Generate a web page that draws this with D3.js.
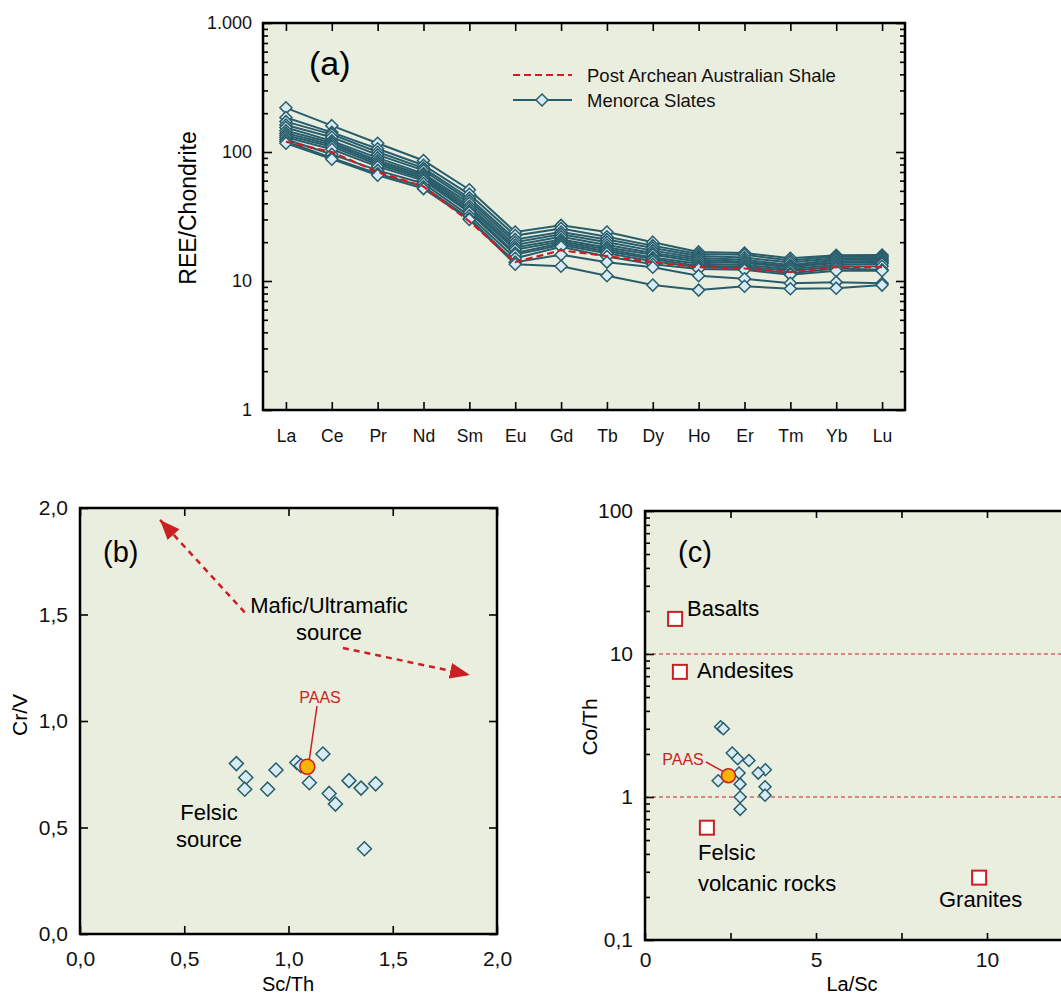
<!DOCTYPE html>
<html>
<head>
<meta charset="utf-8">
<script src="https://cdn.jsdelivr.net/npm/d3@7"></script>
<style>
body { margin: 0; background: #fff; }
svg { display: block; font-family: "Liberation Sans", Arial, sans-serif; }
</style>
</head>
<body>
<svg id="chart" width="1061" height="996"></svg>
<script>
// Panel (a) data: chondrite-normalised REE
var elements = ["La", "Ce", "Pr", "Nd", "Sm", "Eu", "Gd", "Tb", "Dy", "Ho", "Er", "Tm", "Yb", "Lu"];
var paasREE = [120, 100, 70, 54, 29, 14, 17.3, 15.6, 14, 12.8, 12.5, 11.7, 12.8, 12.8];
var slatesREE = [
    [220, 160, 117, 86, 51, 24, 27, 24, 20, 16.8, 16.5, 15, 15.8, 15.9],
    [185, 142, 106, 79, 47, 22.5, 25.5, 22, 18.8, 16.2, 16, 14.4, 15.5, 15.5],
    [172, 137, 100, 75, 44, 21, 24, 21, 18, 15.6, 15.2, 13.9, 15, 15.1],
    [162, 130, 95, 72, 42, 20, 23, 20, 17.2, 15.1, 14.6, 13.3, 14.6, 14.6],
    [155, 122, 90, 68, 40, 19, 22, 19, 16.5, 14.6, 14.1, 13, 14.1, 14.3],
    [146, 118, 86, 66, 38, 18.2, 21, 18.2, 16, 14.1, 13.8, 12.8, 13.8, 14],
    [140, 114, 83, 64, 36.5, 17.5, 20.2, 17.6, 15.2, 13.6, 13.3, 12.4, 13.3, 13.6],
    [135, 110, 80, 62, 35, 16.5, 19.6, 17, 14.8, 13.1, 12.9, 12, 12.9, 13],
    [130, 105, 77, 60, 34, 16, 19, 16.4, 14.2, 12.8, 12.6, 11.5, 12.5, 12.2],
    [125, 96, 72, 57, 32, 15, 18.4, 15.5, 13.5, 12.4, 12.2, 11.2, 12, 12],
    [121, 90, 68, 54, 30.5, 14, 16, 14, 12.8, 11, 10.4, 9.6, 9.8, 9.6],
    [117, 88, 66, 52, 30, 13.5, 13, 11, 9.3, 8.5, 9.1, 8.7, 8.8, 9.3]
];
var yTicksA = [1, 10, 100, 1000];
var yTickLabelsA = ["1", "10", "100", "1.000"];
var legendA = ["Post Archean Australian Shale", "Menorca Slates"];

// Panel (b) data: Cr/V vs Sc/Th
var scTh = [0.75, 0.795, 0.79, 0.90, 0.94, 1.04, 1.06, 1.10, 1.165, 1.195, 1.225, 1.29, 1.348, 1.418, 1.364];
var crV = [0.80, 0.735, 0.68, 0.68, 0.77, 0.805, 0.79, 0.71, 0.845, 0.66, 0.61, 0.72, 0.685, 0.705, 0.40];
var paasB = [1.09, 0.785];
var ticksB = [0, 0.5, 1, 1.5, 2];
var tickLabelsB = ["0,0", "0,5", "1,0", "1,5", "2,0"];

// Panel (c) data: Co/Th vs La/Sc
var laSc = [2.21, 2.29, 2.55, 2.71, 3.04, 3.52, 3.31, 2.75, 2.14, 2.78, 3.51, 3.51, 2.78, 2.78];
var coTh = [3.1, 3.0, 2.03, 1.85, 1.80, 1.55, 1.47, 1.47, 1.30, 1.23, 1.18, 1.03, 1.0, 0.82];
var paasC = [2.44, 1.41];
var rockNames = ["Basalts", "Andesites", "Felsic volcanic rocks", "Granites"];
var rockLaSc = [0.88, 1.02, 1.81, 9.77];
var rockCoTh = [17.6, 7.5, 0.61, 0.273];
var ticksCx = [0, 2.5, 5, 7.5, 10, 12.5];
var ticksCy = [0.1, 1, 10, 100];
var tickLabelsCy = ["0,1", "1", "10", "100"];

// colours
var bgColor = "#eaeedf", teal = "#285d6c", diamondFill = "#d7ebf4", red = "#cc1f24";

var svg = d3.select("#chart");

function diamond(r) {
    return "M0," + (-r) + "L" + r + ",0L0," + r + "L" + (-r) + ",0Z";
}
function logMinors(decades) {
    var out = [];
    decades.forEach(function (d) {
        for (var k = 2; k <= 9; k++) out.push(d * k);
    });
    return out;
}
function cleanAxis(g) {
    g.select(".domain").remove();
    g.selectAll(".tick line").attr("stroke", "#000").attr("stroke-width", 1.6);
    g.selectAll(".tick text").attr("fill", "#111");
}

//** Panel (a) */
var xA = d3.scalePoint().domain(elements).range([263, 905]).padding(0.5);
var yA = d3.scaleLog().domain([1, 1000]).range([410, 23]);
var gA = svg.append("g");

gA.append("rect").attr("x", 263).attr("y", 23).attr("width", 642).attr("height", 387).attr("fill", bgColor);

var lineA = d3.line().x(function (d, i) { return xA(elements[i]); }).y(function (d) { return yA(d); });

slatesREE.forEach(function (s) {
    gA.append("path").attr("d", lineA(s)).attr("fill", "none").attr("stroke", teal).attr("stroke-width", 2);
});
slatesREE.forEach(function (s) {
    gA.selectAll(null).data(s).enter().append("path")
        .attr("d", diamond(6))
        .attr("transform", function (d, i) { return "translate(" + xA(elements[i]) + "," + yA(d) + ")"; })
        .attr("fill", diamondFill).attr("stroke", teal).attr("stroke-width", 1.5);
});
gA.append("path").attr("d", lineA(paasREE)).attr("fill", "none")
    .attr("stroke", red).attr("stroke-width", 2.2).attr("stroke-dasharray", "7,4");

gA.append("g").attr("transform", "translate(0,410)")
    .call(d3.axisBottom(xA).tickSize(-8).tickPadding(20)).call(cleanAxis)
    .selectAll("text").attr("font-size", 17.5);
gA.append("g").attr("transform", "translate(0,23)")
    .call(d3.axisTop(xA).tickSize(-8).tickFormat("")).call(cleanAxis);
gA.append("g").attr("transform", "translate(263,0)")
    .call(d3.axisLeft(yA).tickValues(yTicksA).tickSize(-9).tickPadding(11)
        .tickFormat(function (d, i) { return yTickLabelsA[i]; })).call(cleanAxis)
    .selectAll("text").attr("font-size", 18);
gA.append("g").attr("transform", "translate(263,0)")
    .call(d3.axisLeft(yA).tickValues(logMinors([1, 10, 100])).tickSize(-5).tickFormat("")).call(cleanAxis);
gA.append("g").attr("transform", "translate(905,0)")
    .call(d3.axisRight(yA).tickValues(yTicksA).tickSize(-9).tickFormat("")).call(cleanAxis);
gA.append("g").attr("transform", "translate(905,0)")
    .call(d3.axisRight(yA).tickValues(logMinors([1, 10, 100])).tickSize(-5).tickFormat("")).call(cleanAxis);

gA.append("rect").attr("x", 263).attr("y", 23).attr("width", 642).attr("height", 387)
    .attr("fill", "none").attr("stroke", "#000").attr("stroke-width", 2.5);

gA.append("text").attr("x", 309).attr("y", 75).attr("font-size", 34).text("(a)");
gA.append("text").attr("transform", "translate(196,208) rotate(-90)")
    .attr("text-anchor", "middle").attr("font-size", 23).text("REE/Chondrite");

// legend
gA.append("line").attr("x1", 513).attr("x2", 572).attr("y1", 75).attr("y2", 75)
    .attr("stroke", red).attr("stroke-width", 2.2).attr("stroke-dasharray", "7,4");
gA.append("line").attr("x1", 513).attr("x2", 572).attr("y1", 100).attr("y2", 100)
    .attr("stroke", teal).attr("stroke-width", 2);
gA.append("path").attr("d", diamond(6)).attr("transform", "translate(542,100)")
    .attr("fill", diamondFill).attr("stroke", teal).attr("stroke-width", 1.5);
gA.selectAll(null).data(legendA).enter().append("text")
    .attr("x", 587).attr("y", function (d, i) { return 82 + i * 25; })
    .attr("font-size", 18.5).attr("fill", "#111").text(function (d) { return d; });

//** Panel (b) */
var xB = d3.scaleLinear().domain([0, 2]).range([80, 497]);
var yB = d3.scaleLinear().domain([0, 2]).range([934, 508]);
var gB = svg.append("g");

gB.append("rect").attr("x", 80).attr("y", 508).attr("width", 417).attr("height", 426).attr("fill", bgColor);

var defs = svg.append("defs");
defs.append("marker").attr("id", "arrowhead").attr("viewBox", "0 0 20 16")
    .attr("refX", 20).attr("refY", 8).attr("markerWidth", 20).attr("markerHeight", 16)
    .attr("markerUnits", "userSpaceOnUse").attr("orient", "auto")
    .append("path").attr("d", "M0,0L20,8L0,16Z").attr("fill", red);

gB.append("line").attr("x1", xB(0.79)).attr("y1", yB(1.51)).attr("x2", xB(0.384)).attr("y2", yB(1.944))
    .attr("stroke", red).attr("stroke-width", 2.5).attr("stroke-dasharray", "6,5").attr("marker-end", "url(#arrowhead)");
gB.append("line").attr("x1", xB(1.261)).attr("y1", yB(1.343)).attr("x2", xB(1.87)).attr("y2", yB(1.216))
    .attr("stroke", red).attr("stroke-width", 2.5).attr("stroke-dasharray", "6,5").attr("marker-end", "url(#arrowhead)");

gB.selectAll(null).data(scTh).enter().append("path")
    .attr("d", diamond(7))
    .attr("transform", function (d, i) { return "translate(" + xB(d) + "," + yB(crV[i]) + ")"; })
    .attr("fill", diamondFill).attr("stroke", teal).attr("stroke-width", 1.5);

gB.append("line").attr("x1", 317).attr("y1", 706).attr("x2", xB(paasB[0]) + 2).attr("y2", yB(paasB[1]) - 7)
    .attr("stroke", red).attr("stroke-width", 1.5);
gB.append("circle").attr("cx", xB(paasB[0])).attr("cy", yB(paasB[1])).attr("r", 7.5)
    .attr("fill", "#f7b500").attr("stroke", red).attr("stroke-width", 1.5);
gB.append("text").attr("x", 320).attr("y", 703).attr("text-anchor", "middle")
    .attr("font-size", 16).attr("fill", red).text("PAAS");

gB.append("g").attr("transform", "translate(0,934)")
    .call(d3.axisBottom(xB).tickValues(ticksB).tickSize(-8).tickPadding(17)
        .tickFormat(function (d, i) { return tickLabelsB[i]; })).call(cleanAxis)
    .selectAll("text").attr("font-size", 21);
gB.append("g").attr("transform", "translate(0,508)")
    .call(d3.axisTop(xB).tickValues(ticksB).tickSize(-8).tickFormat("")).call(cleanAxis);
gB.append("g").attr("transform", "translate(80,0)")
    .call(d3.axisLeft(yB).tickValues(ticksB).tickSize(-8).tickPadding(12)
        .tickFormat(function (d, i) { return tickLabelsB[i]; })).call(cleanAxis)
    .selectAll("text").attr("font-size", 21);
gB.append("g").attr("transform", "translate(497,0)")
    .call(d3.axisRight(yB).tickValues(ticksB).tickSize(-8).tickFormat("")).call(cleanAxis);

gB.append("rect").attr("x", 80).attr("y", 508).attr("width", 417).attr("height", 426)
    .attr("fill", "none").attr("stroke", "#000").attr("stroke-width", 2.5);

gB.append("text").attr("x", 103).attr("y", 562).attr("font-size", 29).text("(b)");
gB.append("text").attr("x", 329).attr("y", 613).attr("text-anchor", "middle").attr("font-size", 22).text("Mafic/Ultramafic");
gB.append("text").attr("x", 329).attr("y", 640).attr("text-anchor", "middle").attr("font-size", 22).text("source");
gB.append("text").attr("x", 209).attr("y", 820).attr("text-anchor", "middle").attr("font-size", 22).text("Felsic");
gB.append("text").attr("x", 209).attr("y", 847).attr("text-anchor", "middle").attr("font-size", 22).text("source");
gB.append("text").attr("x", 288).attr("y", 991).attr("text-anchor", "middle").attr("font-size", 20).text("Sc/Th");
gB.append("text").attr("transform", "translate(27,715) rotate(-90)")
    .attr("text-anchor", "middle").attr("font-size", 21).text("Cr/V");

//** Panel (c) */
var xC = d3.scaleLinear().domain([0, 15]).range([645, 1158]);
var yC = d3.scaleLog().domain([0.1, 100]).range([940, 511]);
var gC = svg.append("g");

gC.append("rect").attr("x", 645).attr("y", 511).attr("width", 513).attr("height", 429).attr("fill", bgColor);

[10, 1].forEach(function (v) {
    gC.append("line").attr("x1", 645).attr("x2", 1158).attr("y1", yC(v)).attr("y2", yC(v))
        .attr("stroke", red).attr("stroke-width", 1.2).attr("stroke-dasharray", "4,3");
});

gC.selectAll(".rock").data(rockLaSc).enter().append("rect").attr("class", "rock")
    .attr("x", function (d) { return xC(d) - 7; })
    .attr("y", function (d, i) { return yC(rockCoTh[i]) - 7; })
    .attr("width", 14).attr("height", 14)
    .attr("fill", "#fff").attr("stroke", red).attr("stroke-width", 2);

gC.selectAll(null).data(laSc).enter().append("path")
    .attr("d", diamond(6))
    .attr("transform", function (d, i) { return "translate(" + xC(d) + "," + yC(coTh[i]) + ")"; })
    .attr("fill", diamondFill).attr("stroke", teal).attr("stroke-width", 1.5);

gC.append("line").attr("x1", 706).attr("y1", 762).attr("x2", xC(paasC[0]) - 5).attr("y2", yC(paasC[1]) - 4)
    .attr("stroke", red).attr("stroke-width", 1.5);
gC.append("circle").attr("cx", xC(paasC[0])).attr("cy", yC(paasC[1])).attr("r", 7)
    .attr("fill", "#f7b500").attr("stroke", red).attr("stroke-width", 1.5);
gC.append("text").attr("x", 683).attr("y", 765).attr("text-anchor", "middle")
    .attr("font-size", 16).attr("fill", red).text("PAAS");

gC.append("g").attr("transform", "translate(0,940)")
    .call(d3.axisBottom(xC).tickValues(ticksCx).tickSize(-7).tickPadding(12)
        .tickFormat(function (d) { return d % 5 === 0 ? d : ""; })).call(cleanAxis)
    .selectAll("text").attr("font-size", 21);
gC.append("g").attr("transform", "translate(0,511)")
    .call(d3.axisTop(xC).tickValues(ticksCx).tickSize(-7).tickFormat("")).call(cleanAxis);
gC.append("g").attr("transform", "translate(645,0)")
    .call(d3.axisLeft(yC).tickValues(ticksCy).tickSize(-9).tickPadding(12)
        .tickFormat(function (d, i) { return tickLabelsCy[i]; })).call(cleanAxis)
    .selectAll("text").attr("font-size", 21);
gC.append("g").attr("transform", "translate(645,0)")
    .call(d3.axisLeft(yC).tickValues(logMinors([0.1, 1, 10])).tickSize(-5).tickFormat("")).call(cleanAxis);

gC.append("rect").attr("x", 645).attr("y", 511).attr("width", 513).attr("height", 429)
    .attr("fill", "none").attr("stroke", "#000").attr("stroke-width", 2.5);

gC.append("text").attr("x", 678).attr("y", 562).attr("font-size", 29).text("(c)");
gC.append("text").attr("x", 687).attr("y", 616).attr("font-size", 22).text(rockNames[0]);
gC.append("text").attr("x", 697).attr("y", 678).attr("font-size", 22).text(rockNames[1]);
gC.append("text").attr("x", 698).attr("y", 860).attr("font-size", 22).text("Felsic");
gC.append("text").attr("x", 698).attr("y", 891).attr("font-size", 22).text("volcanic rocks");
gC.append("text").attr("x", 939).attr("y", 907).attr("font-size", 22).text(rockNames[3]);
gC.append("text").attr("x", 852).attr("y", 991).attr("text-anchor", "middle").attr("font-size", 20).text("La/Sc");
gC.append("text").attr("transform", "translate(597,727) rotate(-90)")
    .attr("text-anchor", "middle").attr("font-size", 21).text("Co/Th");
</script>
</body>
</html>
